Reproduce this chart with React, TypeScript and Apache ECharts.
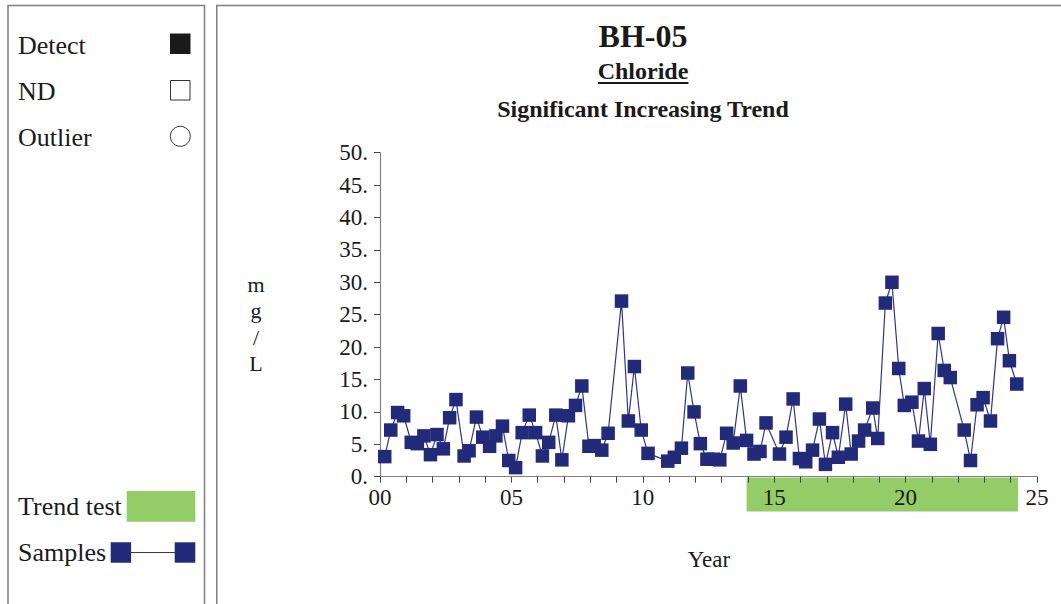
import React, { useEffect, useRef } from "react";
import * as echarts from "echarts";

// Sample dates (decimal years since 2000) and chloride concentrations (mg/L)
const sampleYears: number[] = [
  0.18, 0.41, 0.67, 0.9, 1.19, 1.42, 1.67, 1.92, 2.17, 2.41, 2.65, 2.89,
  3.2, 3.39, 3.67, 3.91, 4.17, 4.41, 4.66, 4.9, 5.16, 5.41, 5.68, 5.92,
  6.18, 6.42, 6.69, 6.92, 7.17, 7.44, 7.68, 7.95, 8.15, 8.44, 8.68,
  9.19, 9.45, 9.68, 9.94, 10.2, 10.95, 11.2, 11.47, 11.71, 11.95, 12.19,
  12.44, 12.69, 12.93, 13.19, 13.44, 13.71, 13.95, 14.23, 14.46, 14.69,
  15.2, 15.45, 15.72, 15.96, 16.2, 16.46, 16.72, 16.95, 17.22, 17.44,
  17.72, 17.93, 18.21, 18.44, 18.75, 18.94, 19.23, 19.48, 19.74, 19.95,
  20.24, 20.49, 20.71, 20.94, 21.24, 21.47, 21.7, 22.23, 22.47, 22.72,
  22.95, 23.23, 23.5, 23.73, 23.95, 24.23,
];
const chlorideValues: number[] = [
  3.1, 7.2, 9.9, 9.4, 5.3, 5.1, 6.3, 3.4, 6.5, 4.3, 9.1, 11.9,
  3.2, 4.0, 9.2, 6.1, 4.7, 6.3, 7.8, 2.5, 1.4, 6.8, 9.5, 6.8,
  3.2, 5.3, 9.5, 2.6, 9.4, 11.0, 14.0, 4.7, 4.8, 4.1, 6.7,
  27.1, 8.6, 17.0, 7.2, 3.6, 2.4, 3.0, 4.4, 16.0, 10.0, 5.1,
  2.7, 2.7, 2.6, 6.7, 5.2, 14.0, 5.6, 3.5, 3.9, 8.3,
  3.5, 6.1, 12.0, 2.8, 2.3, 4.1, 8.9, 1.9, 6.8, 3.0,
  11.2, 3.5, 5.5, 7.2, 10.6, 5.9, 26.8, 30.0, 16.7, 11.0,
  11.5, 5.5, 13.6, 5.0, 22.1, 16.4, 15.3, 7.2, 2.5, 11.1,
  12.2, 8.6, 21.3, 24.6, 17.9, 14.3,
];
// Trend test window (decimal years)
const trendWindow: number[] = [13.95, 24.28];

const yTicks = { min: 0, max: 50, interval: 5 };
const xTicks = { min: 0, max: 25, interval: 1, labelEvery: 5 };

const FONT = "'Liberation Serif', 'Times New Roman', Times, serif";
const TEXT = "#1a1a1a";
const NAVY = "#232a7a";
const GREEN = "#94cc68";
const BORDER = "#7f7f7f";

export default function App() {
  const ref = useRef<HTMLDivElement>(null);

  useEffect(() => {
    if (!ref.current) return;
    const chart = echarts.init(ref.current, undefined, { renderer: "svg" });
    const points = sampleYears.map((y, i) => [y, chlorideValues[i]]);

    const txt = (text: string, x: number, y: number, size: number, opts: any = {}) => ({
      type: "text",
      x,
      y,
      style: {
        text,
        fontFamily: FONT,
        fontSize: size,
        fill: TEXT,
        align: opts.align || "left",
        verticalAlign: "middle",
        fontWeight: opts.bold ? "bold" : "normal",
        lineHeight: opts.lineHeight,
      },
      z: 20,
    });

    chart.setOption({
      animation: false,
      backgroundColor: "#ffffff",
      grid: { left: 380, right: 24, top: 152.7, bottom: 127.3, containLabel: false },
      xAxis: {
        type: "value",
        min: xTicks.min,
        max: xTicks.max,
        interval: xTicks.interval,
        z: 5,
        splitLine: { show: false },
        axisLine: { show: true, onZero: false, lineStyle: { color: "#808080", width: 1.2 } },
        axisTick: { show: true, length: 6, lineStyle: { color: "#444", width: 1 } },
        axisLabel: {
          margin: 9,
          fontFamily: FONT,
          fontSize: 23,
          color: TEXT,
          formatter: (v: number) =>
            Math.round(v) % xTicks.labelEvery === 0 ? String(Math.round(v)).padStart(2, "0") : "",
        },
      },
      yAxis: {
        type: "value",
        min: yTicks.min,
        max: yTicks.max,
        interval: yTicks.interval,
        z: 5,
        splitLine: { show: false },
        axisLine: { show: true, lineStyle: { color: "#808080", width: 1.2 } },
        axisTick: { show: true, length: 6, lineStyle: { color: "#444", width: 1 } },
        axisLabel: {
          margin: 12,
          fontFamily: FONT,
          fontSize: 23,
          color: TEXT,
          formatter: (v: number) => `${v}.`,
        },
      },
      series: [
        {
          type: "custom",
          z: 1,
          clip: false,
          silent: true,
          encode: { x: [0, 1], y: 2 },
          data: [[trendWindow[0], trendWindow[1], 0]],
          renderItem: (_params: any, api: any) => {
            const a = api.coord([api.value(0), 0]);
            const b = api.coord([api.value(1), 0]);
            return {
              type: "rect",
              shape: { x: a[0], y: a[1] + 0.8, width: b[0] - a[0], height: 34 },
              style: { fill: GREEN },
            };
          },
        },
        {
          type: "line",
          z: 10,
          data: points,
          symbol: "rect",
          symbolSize: 13.5,
          showSymbol: true,
          itemStyle: { color: NAVY },
          lineStyle: { color: "#2d3588", width: 1.2 },
        },
      ],
      graphic: [
        // panel borders
        {
          type: "rect",
          shape: { x: 8, y: 5.5, width: 196.5, height: 640 },
          style: { fill: "none", stroke: BORDER, lineWidth: 1.5 },
        },
        {
          type: "rect",
          shape: { x: 216.8, y: 5.5, width: 900, height: 640 },
          style: { fill: "none", stroke: BORDER, lineWidth: 1.5 },
        },
        // titles
        txt("BH-05", 643, 36, 32, { align: "center", bold: true }),
        txt("Chloride", 643, 71, 24, { align: "center", bold: true }),
        {
          type: "line",
          shape: { x1: 598, y1: 83, x2: 688.5, y2: 83 },
          style: { stroke: TEXT, lineWidth: 2 },
        },
        txt("Significant Increasing Trend", 643, 108.5, 24, { align: "center", bold: true }),
        // axis names
        txt("m\ng\n/\nL", 256, 324, 22, { align: "center", lineHeight: 26.5 }),
        txt("Year", 709, 559, 23, { align: "center" }),
        // legend (top)
        txt("Detect", 18, 45, 26),
        { type: "rect", shape: { x: 170, y: 33.5, width: 20.5, height: 20.5 }, style: { fill: "#1a1a1a" } },
        txt("ND", 18, 91, 26),
        {
          type: "rect",
          shape: { x: 170.5, y: 80.5, width: 19.5, height: 19.5 },
          style: { fill: "#fff", stroke: "#333", lineWidth: 1 },
        },
        txt("Outlier", 18, 137, 26),
        {
          type: "circle",
          shape: { cx: 180.3, cy: 136.3, r: 10 },
          style: { fill: "#fff", stroke: "#333", lineWidth: 1 },
        },
        // legend (bottom)
        txt("Trend test", 18, 506, 26),
        { type: "rect", shape: { x: 126.7, y: 491, width: 68.6, height: 30.7 }, style: { fill: GREEN } },
        txt("Samples", 18, 552.5, 26),
        {
          type: "line",
          shape: { x1: 131, y1: 552.5, x2: 175, y2: 552.5 },
          style: { stroke: "#2d3588", lineWidth: 1.2 },
        },
        { type: "rect", shape: { x: 110.7, y: 542.3, width: 20.4, height: 20.4 }, style: { fill: NAVY } },
        { type: "rect", shape: { x: 174.7, y: 542.3, width: 20.6, height: 20.4 }, style: { fill: NAVY } },
      ],
    });

    return () => chart.dispose();
  }, []);

  return (
    <div
      ref={ref}
      style={{ position: "fixed", left: 0, top: 0, width: 1061, height: 604, background: "#fff" }}
    />
  );
}
